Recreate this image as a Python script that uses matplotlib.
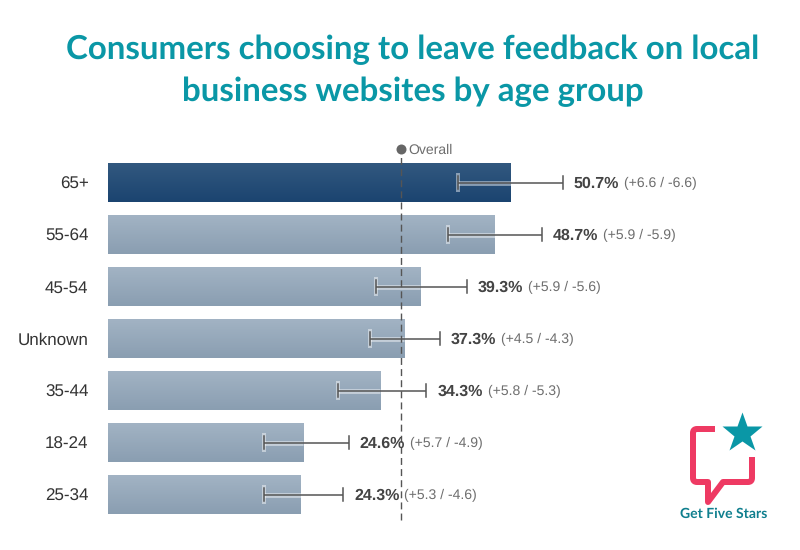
import numpy as np
import matplotlib
matplotlib.use('Agg')
import matplotlib.pyplot as plt
from matplotlib.path import Path
from matplotlib.patches import PathPatch

groups = ['65+', '55-64', '45-54', 'Unknown', '35-44', '18-24', '25-34']
values = [50.7, 48.7, 39.3, 37.3, 34.3, 24.6, 24.3]
err_plus = [6.6, 5.9, 5.9, 4.5, 5.8, 5.7, 5.3]
err_minus = [6.6, 5.9, 5.6, 4.3, 5.3, 4.9, 4.6]
overall = 36.85

TEAL = '#0a97a6'
PINK = '#ee3a63'
TEXT_DARK = '#444444'
TEXT_GREY = '#6e6e6e'
PX = 72 / 100  # one pixel in points at dpi=100

plt.rcParams['font.family'] = ['Liberation Sans', 'DejaVu Sans']
plt.rcParams['text.hinting'] = 'no_hinting'
plt.rcParams['text.hinting_factor'] = 1


def main():
    fig = plt.figure(figsize=(8, 5.5), dpi=100)

    # axes span pixel y 130-530, x from the bar base to the right edge
    ax = fig.add_axes([108 / 800, 20 / 550, 692 / 800, 400 / 550])
    for s in ax.spines.values():
        s.set_visible(False)
    ax.set_xticks([])

    y = np.arange(len(groups))
    ax.set_yticks(y, groups)
    ax.tick_params(axis='y', length=0, pad=19.5 * PX, labelsize=12, labelcolor='#333333')

    # Bars, with a vertical gradient clipped to each one
    grad = np.linspace(0, 1, 64).reshape(-1, 1)
    bars = ax.barh(y, values, height=39 / 52, color='none', edgecolor='none')
    for i, bar in enumerate(bars):
        if i == 0:
            cmap = matplotlib.colors.LinearSegmentedColormap.from_list('top', ['#32587f', '#1b4470'])
        else:
            cmap = matplotlib.colors.LinearSegmentedColormap.from_list('rest', ['#a2b3c4', '#8a9eb1'])
        im = ax.imshow(grad, cmap=cmap, aspect='auto', zorder=1,
                       extent=(0, bar.get_width(), bar.get_y() + bar.get_height(), bar.get_y()))
        im.set_clip_path(bar)
    ax.set_xlim(0, 692 / 7.94)
    ax.set_ylim((530 - 182.5) / 52, (130 - 182.5) / 52)

    # Overall marker
    trans = ax.get_xaxis_transform()
    ax.plot([overall, overall], [0.025, 0.9325], transform=trans, color='#555555',
            lw=1.0, dashes=(5, 3), zorder=4)
    ax.plot([overall], [0.9525], transform=trans, marker='o', ms=10 * PX, color='#666666',
            mec='none', clip_on=False, zorder=4)
    ax.annotate('Overall', (overall, 0.9525), xycoords=trans, xytext=(8 * PX, 0),
                textcoords='offset points', va='center_baseline', fontsize=10, color=TEXT_GREY)

    # Error bars and labels
    fig.canvas.draw()
    renderer = fig.canvas.get_renderer()
    for i, v in enumerate(values):
        lo = v - err_minus[i]
        hi = v + err_plus[i]
        ax.plot([lo, min(hi, v)], [i, i], color='white', alpha=0.45, lw=3.5 * PX + 1, zorder=3,
                solid_capstyle='butt')
        ax.plot([lo, lo], [i - 0.15, i + 0.15], color='white', alpha=0.45, lw=4 * PX, zorder=3)
        ax.plot([lo, hi], [i, i], color='#555555', lw=1.1, zorder=3.5, solid_capstyle='butt')
        ax.plot([lo, lo], [i - 0.13, i + 0.13], color='#555555', lw=1.1, zorder=3.5)
        ax.plot([hi, hi], [i - 0.13, i + 0.13], color='#555555', lw=1.1, zorder=3.5)

        t = ax.annotate(f'{v:.1f}%', (hi, i), xytext=(11 * PX, 0), textcoords='offset points',
                        va='center_baseline', fontsize=11.2, fontweight='bold', color=TEXT_DARK, zorder=5)
        box = t.get_window_extent(renderer)
        ax.annotate(f'(+{err_plus[i]:.1f} / -{err_minus[i]:.1f})', (hi, i),
                    xytext=((box.x1 - ax.transData.transform((hi, i))[0] + 5) * PX, 0),
                    textcoords='offset points', va='center_baseline', fontsize=10.1, color=TEXT_GREY, zorder=5)

    # Title
    title_font = ['Lato', 'DejaVu Sans']
    fig.text(412.5 / 800, 1 - 50 / 550, 'Consumers choosing to leave feedback on local', ha='center', va='center',
             fontsize=23.95, fontweight='bold', color=TEAL, family=title_font)
    fig.text(412.5 / 800, 1 - 92 / 550, 'business websites by age group', ha='center', va='center',
             fontsize=23.95, fontweight='bold', color=TEAL, family=title_font)

    # Logo, drawn on a pixel-sized overlay
    logo = fig.add_axes([0, 0, 1, 1], facecolor='none')
    logo.set_xlim(0, 800)
    logo.set_ylim(550, 0)
    logo.axis('off')
    bubble = Path([(715, 429), (697, 429), (693, 429), (693, 433), (693, 478), (693, 482), (697, 482),
                   (708, 482), (708, 502), (723, 482), (748, 482), (752, 482), (752, 478), (752, 457)],
                  [Path.MOVETO, Path.LINETO, Path.CURVE3, Path.CURVE3, Path.LINETO, Path.CURVE3, Path.CURVE3,
                   Path.LINETO, Path.LINETO, Path.LINETO, Path.LINETO, Path.CURVE3, Path.CURVE3, Path.LINETO])
    logo.add_patch(PathPatch(bubble, fc='none', ec=PINK, lw=6 * PX, joinstyle='round', capstyle='butt'))
    logo.plot([741.5], [433], marker='*', ms=43 * PX, color=TEAL, mec='none')
    logo.text(724, 513.5, 'Get Five Stars', ha='center', va='center', fontsize=10, fontweight='bold',
              color='#0f7f8e', family=title_font)

    fig.savefig('out.png', dpi=100)


if __name__ == '__main__':
    main()
